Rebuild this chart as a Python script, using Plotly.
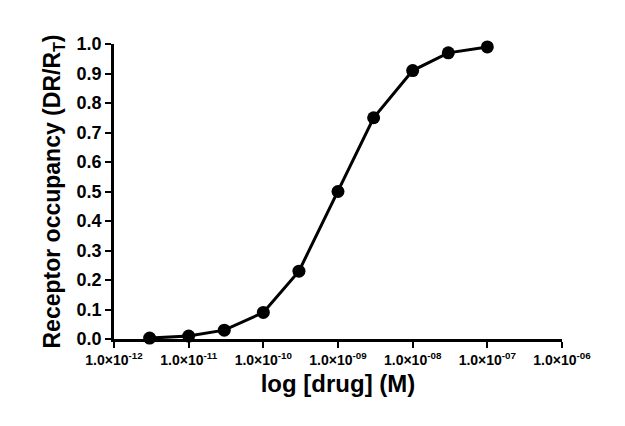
import plotly.graph_objects as go

conc = [3e-12, 1e-11, 3e-11, 1e-10, 3e-10, 1e-9, 3e-9, 1e-8, 3e-8, 1e-7]
occupancy = [0.003, 0.01, 0.03, 0.09, 0.23, 0.50, 0.75, 0.91, 0.97, 0.99]

x_tickvals = [1e-12, 1e-11, 1e-10, 1e-9, 1e-8, 1e-7, 1e-6]
x_ticktext = ["1.0×10<sup>-12</sup>", "1.0×10<sup>-11</sup>", "1.0×10<sup>-10</sup>",
              "1.0×10<sup>-09</sup>", "1.0×10<sup>-08</sup>", "1.0×10<sup>-07</sup>",
              "1.0×10<sup>-06</sup>"]
y_tickvals = [0.0, 0.1, 0.2, 0.3, 0.4, 0.5, 0.6, 0.7, 0.8, 0.9, 1.0]
y_ticktext = ["<b>%.1f</b>" % v for v in y_tickvals]

fig = go.Figure()
fig.add_trace(go.Scatter(
    x=conc, y=occupancy, mode="lines+markers",
    line=dict(color="black", width=3),
    marker=dict(color="black", size=13),
    cliponaxis=False, showlegend=False,
))

font = "Liberation Sans, Arial, sans-serif"
fig.update_layout(
    width=625, height=426,
    margin=dict(l=106, r=71, t=36, b=95),
    paper_bgcolor="white", plot_bgcolor="white",
    font=dict(family=font, color="black"),
    xaxis=dict(
        type="log", range=[-12, -6],
        tickvals=x_tickvals, ticktext=["<b>%s</b>" % t for t in x_ticktext],
        tickfont=dict(size=14, family=font, color="black"),
        showline=True, linecolor="black", linewidth=2.5,
        ticks="outside", ticklen=6, tickwidth=2, tickcolor="black",
        showgrid=False, zeroline=False,
        title=dict(text="<b>log [drug] (M)</b>", font=dict(size=24, family=font), standoff=9),
    ),
    yaxis=dict(
        range=[0, 1],
        tickvals=y_tickvals, ticktext=y_ticktext,
        tickfont=dict(size=18, family=font, color="black"),
        showline=True, linecolor="black", linewidth=2.5,
        ticks="outside", ticklen=6, tickwidth=2, tickcolor="black",
        showgrid=False, zeroline=False,
        title=dict(text="<b>Receptor occupancy (DR/R<sub>T</sub>)</b>", font=dict(size=23, family=font), standoff=10),
    ),
)

fig.write_html("out.html")
